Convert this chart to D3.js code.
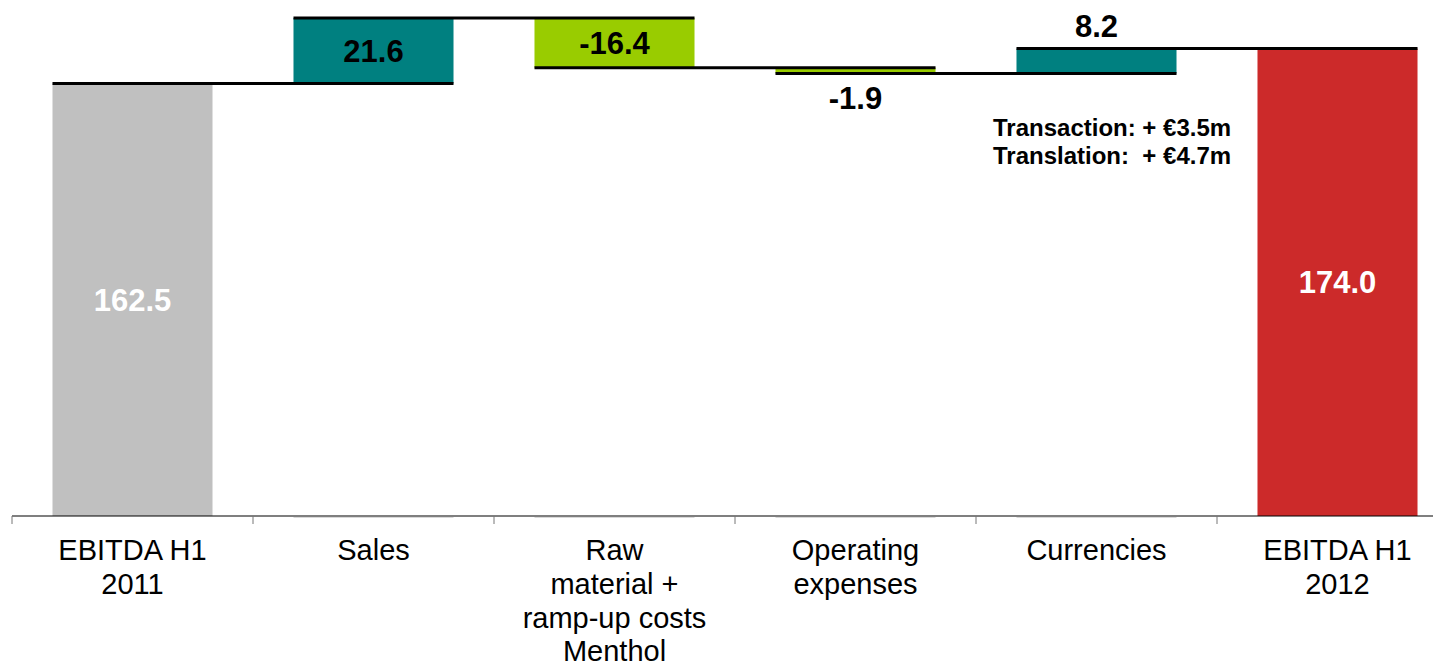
<!DOCTYPE html>
<html>
<head>
<meta charset="utf-8">
<script src="https://cdn.jsdelivr.net/npm/d3@7"></script>
<style>
  html, body { margin: 0; padding: 0; background: #fff; }
  svg { display: block; font-family: "Liberation Sans", Arial, sans-serif; }
</style>
</head>
<body>
<svg id="chart" width="1433" height="664"></svg>
<script>
// ---- data ----
const categories = ["EBITDA H1 2011", "Sales", "Raw material + ramp-up costs Menthol", "Operating expenses", "Currencies", "EBITDA H1 2012"];
const categoryLines = [
  ["EBITDA H1", "2011"],
  ["Sales"],
  ["Raw", "material +", "ramp-up costs", "Menthol"],
  ["Operating", "expenses"],
  ["Currencies"],
  ["EBITDA H1", "2012"]
];
const values = [162.5, 21.6, -16.4, -1.9, 8.2, 174.0];
const kinds = ["total", "delta", "delta", "delta", "delta", "total"];
const valueLabels = ["162.5", "21.6", "-16.4", "-1.9", "8.2", "174.0"];
const colors = ["#C0C0C0", "#008080", "#99CC00", "#99CC00", "#008080", "#CC2A2A"];
const annotationLines = ["Transaction: + \u20ac3.5m", "Translation:  + \u20ac4.7m"];
const yDomain = [20, 190];

// ---- layout ----
const svg = d3.select("#chart");
const baseY = 516;
const x = d3.scaleBand().domain(categories).range([12, 1458]).paddingInner(0.336).paddingOuter(0.168);
const y = d3.scaleLinear().domain(yDomain).range([baseY, 0]);
const step = x.step(), bw = x.bandwidth();

// compute bars
let running = 0;
const bars = categories.map((c, i) => {
  let lo, hi, start, end;
  if (kinds[i] === "total") {
    lo = yDomain[0]; hi = values[i]; start = values[i]; end = values[i]; running = values[i];
  } else {
    start = running; end = running + values[i]; running = end;
    lo = Math.min(start, end); hi = Math.max(start, end);
  }
  return { cat: c, i, lo, hi, start, end, v: values[i], label: valueLabels[i], color: colors[i], kind: kinds[i] };
});

// faint baseline marks under floating bars
svg.selectAll("line.ghost").data(bars.filter(b => b.kind === "delta")).enter()
  .append("line")
  .attr("x1", b => x(b.cat)).attr("x2", b => x(b.cat) + bw)
  .attr("y1", baseY + 1.5).attr("y2", baseY + 1.5)
  .attr("stroke", "#d8d8d8").attr("stroke-width", 1);

// bars
svg.selectAll("rect.bar").data(bars).enter()
  .append("rect")
  .attr("x", b => x(b.cat))
  .attr("width", bw)
  .attr("y", b => y(b.hi))
  .attr("height", b => y(b.lo) - y(b.hi))
  .attr("fill", b => b.color);

// connectors: from bar i left edge to bar i+1 right edge at the level after bar i
const connectors = bars.slice(0, -1).map((b, i) => ({ from: b.cat, to: bars[i + 1].cat, level: b.end }));
svg.selectAll("line.conn").data(connectors).enter()
  .append("line")
  .attr("x1", c => x(c.from)).attr("x2", c => x(c.to) + bw)
  .attr("y1", c => y(c.level)).attr("y2", c => y(c.level))
  .attr("stroke", "#000").attr("stroke-width", 3);

// axis
svg.append("line")
  .attr("x1", 12).attr("x2", 1433).attr("y1", baseY).attr("y2", baseY)
  .attr("stroke", "#000").attr("stroke-width", 1.2);
svg.selectAll("line.tick").data(categories).enter()
  .append("line")
  .attr("x1", c => x(c) - (step - bw) / 2).attr("x2", c => x(c) - (step - bw) / 2)
  .attr("y1", baseY).attr("y2", baseY + 8)
  .attr("stroke", "#777").attr("stroke-width", 1);

// category labels
const lab = svg.selectAll("text.cat").data(categories).enter()
  .append("text")
  .attr("text-anchor", "middle")
  .attr("font-size", 29)
  .attr("fill", "#000");
lab.each(function (c, i) {
  const t = d3.select(this);
  categoryLines[i].forEach((line, k) => {
    t.append("tspan").attr("x", x(c) + bw / 2).attr("y", 560 + k * 33.8).text(line);
  });
});

// value labels
svg.selectAll("text.val").data(bars).enter()
  .append("text")
  .attr("text-anchor", "middle")
  .attr("font-weight", "bold")
  .attr("font-size", 31)
  .attr("fill", b => b.kind === "total" ? "#fff" : "#000")
  .attr("x", b => x(b.cat) + bw / 2)
  .attr("y", b => {
    const top = y(b.hi), bot = y(b.lo);
    if (bot - top >= 40) return (top + bot) / 2 + 11;
    return b.v < 0 ? bot + 36 : top - 12;
  })
  .text(b => b.label);

// annotation for currencies
const ann = svg.append("text")
  .attr("font-weight", "bold")
  .attr("font-size", 24)
  .attr("fill", "#000")
  .attr("xml:space", "preserve")
  .style("white-space", "pre");
annotationLines.forEach((line, k) => {
  ann.append("tspan").attr("x", 993).attr("y", 136 + k * 28).text(line);
});
</script>
</body>
</html>
